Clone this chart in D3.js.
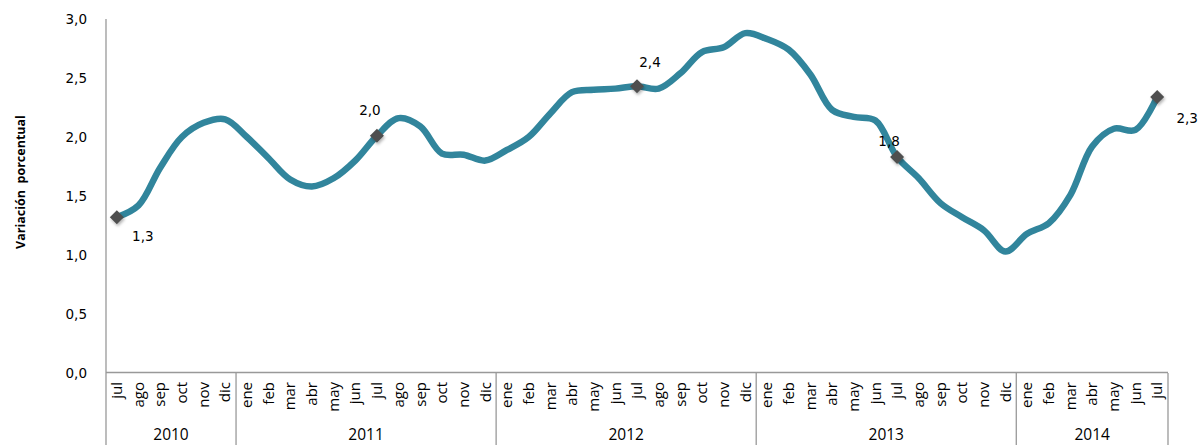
<!DOCTYPE html>
<html>
<head>
<meta charset="utf-8">
<script src="https://cdn.jsdelivr.net/npm/d3@7"></script>
<style>
  body { margin: 0; background: #fff; }
  svg { display: block; }
  .tick-label { font-family: "DejaVu Sans", sans-serif; font-size: 13.5px; fill: #000; }
  .month { font-family: "Open Sans", sans-serif; font-size: 15px; fill: #000; }
  .year { font-family: "Open Sans", sans-serif; font-size: 15.5px; fill: #000; }
  .ytitle { font-family: "Open Sans", sans-serif; font-size: 12.5px; font-weight: bold; fill: #000; }
  .label { font-family: "DejaVu Sans", sans-serif; font-size: 13.5px; fill: #000; }
</style>
</head>
<body>
<div id="chart"></div>
<script>
// month names, years and the series (jul 2010 - jul 2014)
var monthNames = ["ene", "feb", "mar", "abr", "may", "jun", "jul", "ago", "sep", "oct", "nov", "dic"];
var years = [2010, 2011, 2012, 2013, 2014];
var firstMonth = 6; // jul 2010
var values = [
  1.32, 1.42, 1.74, 2.00, 2.12, 2.15,
  2.00, 1.82, 1.64, 1.58, 1.65, 1.80, 2.01, 2.16, 2.09, 1.86, 1.85, 1.80,
  1.89, 2.00, 2.20, 2.38, 2.40, 2.41, 2.43, 2.41, 2.54, 2.72, 2.76, 2.88,
  2.83, 2.74, 2.53, 2.23, 2.17, 2.14, 1.83, 1.65, 1.44, 1.32, 1.21, 1.03,
  1.18, 1.27, 1.51, 1.92, 2.07, 2.06, 2.34
];
var labelled = [0, 12, 24, 36, 48];
var yTicks = [0, 0.5, 1, 1.5, 2, 2.5, 3];

const drawChart = () => {
  var data = values.map(function (v, i) {
    var m = firstMonth + i;
    return { i: i, month: monthNames[m % 12], year: years[0] + Math.floor(m / 12), value: v };
  });

  var width = 1201, height = 445;
  var plot = { left: 106, right: 1168, top: 19, bottom: 373 };

  var svg = d3.select("#chart").append("svg")
    .attr("width", width)
    .attr("height", height);

  var x = d3.scaleBand()
    .domain(d3.range(data.length))
    .range([plot.left, plot.right]);

  var y = d3.scaleLinear()
    .domain([0, 3])
    .range([plot.bottom, plot.top]);

  var fmt = function (d) { return d3.format(".1f")(d).replace(".", ","); };
  var cx = function (d) { return x(d.i) + x.bandwidth() / 2; };

  // y tick labels
  svg.selectAll(".tick-label")
    .data(yTicks)
    .enter().append("text")
    .attr("class", "tick-label")
    .attr("x", 87)
    .attr("y", function (d) { return y(d); })
    .attr("dy", "0.35em")
    .attr("text-anchor", "end")
    .text(fmt);

  // axis lines
  svg.append("line")
    .attr("x1", plot.left).attr("x2", plot.left)
    .attr("y1", plot.top).attr("y2", height)
    .attr("stroke", "#999").attr("stroke-width", 1.3);

  svg.append("line")
    .attr("x1", plot.left).attr("x2", plot.right)
    .attr("y1", y(0) - 0.5).attr("y2", y(0) - 0.5)
    .attr("stroke", "#999").attr("stroke-width", 1.3);

  // year separators
  var yearStarts = data.filter(function (d) { return d.month === "ene"; }).map(function (d) { return d.i; });
  var bounds = [0].concat(yearStarts).concat([data.length]);
  var bx = function (k) { return k === data.length ? plot.right : x(k); };

  svg.selectAll(".sep")
    .data(bounds.slice(1))
    .enter().append("line")
    .attr("class", "sep")
    .attr("x1", bx)
    .attr("x2", bx)
    .attr("y1", y(0))
    .attr("y2", height)
    .attr("stroke", "#999").attr("stroke-width", 1.3);

  // month labels
  svg.selectAll(".month")
    .data(data)
    .enter().append("text")
    .attr("class", "month")
    .attr("transform", function (d) { return "translate(" + cx(d) + ",382) rotate(-90)"; })
    .attr("dy", "0.35em")
    .attr("text-anchor", "end")
    .text(function (d) { return d.month; });

  // year labels
  svg.selectAll(".year")
    .data(years)
    .enter().append("text")
    .attr("class", "year")
    .attr("x", function (d, k) { return (bx(bounds[k]) + bx(bounds[k + 1])) / 2; })
    .attr("y", 440)
    .attr("text-anchor", "middle")
    .text(function (d) { return d; });

  // y axis title
  svg.append("text")
    .attr("class", "ytitle")
    .attr("transform", "translate(21,182) rotate(-90)")
    .attr("dy", "0.35em")
    .attr("text-anchor", "middle")
    .attr("xml:space", "preserve")
    .text("Variación  porcentual");

  // line
  var line = d3.line()
    .x(cx)
    .y(function (d) { return y(d.value); })
    .curve(d3.curveCatmullRom.alpha(0.5));

  svg.append("path")
    .datum(data)
    .attr("fill", "none")
    .attr("stroke", "#31859C")
    .attr("stroke-width", 6.5)
    .attr("stroke-linecap", "round")
    .attr("d", line);

  // markers
  var filt = svg.append("defs").append("filter").attr("id", "sh")
    .attr("x", "-50%").attr("y", "-50%").attr("width", "200%").attr("height", "200%");
  filt.append("feDropShadow").attr("dx", 1).attr("dy", 2).attr("stdDeviation", 1.5)
    .attr("flood-color", "#000").attr("flood-opacity", 0.3);

  var marked = data.filter(function (d) { return labelled.indexOf(d.i) >= 0; });

  svg.selectAll(".mk")
    .data(marked)
    .enter().append("path")
    .attr("class", "mk")
    .attr("d", d3.symbol().type(d3.symbolDiamond2).size(125))
    .attr("transform", function (d) { return "translate(" + cx(d) + "," + y(d.value) + ")"; })
    .attr("fill", "#505050")
    .attr("filter", "url(#sh)");

  // data labels (offsets from the marker)
  var offsets = { 0: [26, 24], 12: [-7, -21], 24: [13, -19], 36: [-8, -11], 48: [30, 26] };

  svg.selectAll(".label")
    .data(marked)
    .enter().append("text")
    .attr("class", "label")
    .attr("x", function (d) { return cx(d) + offsets[d.i][0]; })
    .attr("y", function (d) { return y(d.value) + offsets[d.i][1]; })
    .attr("text-anchor", "middle")
    .text(function (d) { return fmt(Math.round(d.value * 10) / 10); });
}

drawChart();
</script>
</body>
</html>
